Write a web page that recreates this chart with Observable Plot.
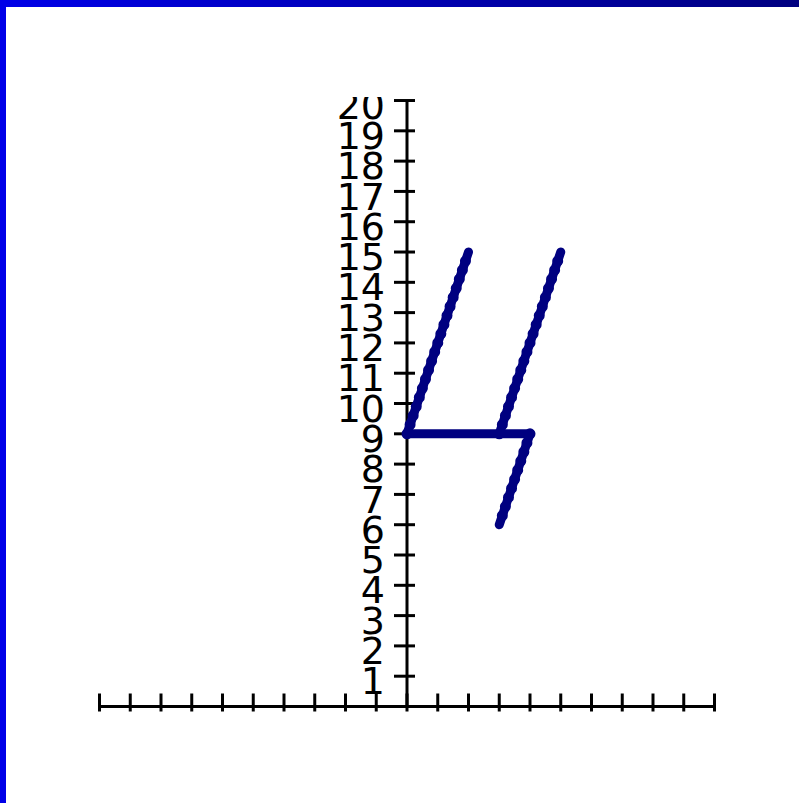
<!DOCTYPE html>
<html><head><meta charset="utf-8">
<script src="https://cdn.jsdelivr.net/npm/d3@7"></script>
<script src="https://cdn.jsdelivr.net/npm/@observablehq/plot@0.6"></script>
<style>
html,body{margin:0;padding:0;background:#fff;width:799px;height:803px;overflow:hidden;}
#top{position:absolute;left:0;top:0;width:799px;height:7px;background:linear-gradient(to right,#0000e8,#000080);z-index:2}
#left{position:absolute;left:0;top:0;width:6px;height:803px;background:#0000e8;z-index:2}
#chart{position:absolute;left:0;top:0}
</style></head><body>
<div id="chart"></div><div id="top"></div><div id="left"></div>
<script>
// tick values
const xTicks = [-10,-9,-8,-7,-6,-5,-4,-3,-2,-1,0,1,2,3,4,5,6,7,8,9,10];
const yTicks = [1,2,3,4,5,6,7,8,9,10,11,12,13,14,15,16,17,18,19,20];
// segments of the "4" drawing
const segX1 = [0, 0, 4, 3];
const segY1 = [9, 9, 9, 9];
const segX2 = [2, 4, 3, 5];
const segY2 = [15, 9, 6, 15];
const sloped = [true, false, true, true];

const xTickSym = {draw(ctx){ ctx.moveTo(0,-13); ctx.lineTo(0,5); }};
const yTickSym = {draw(ctx){ ctx.moveTo(-13,0); ctx.lineTo(8,0); }};
const idx = segX1.map((d,i)=>i);
const slopedIdx = idx.filter(i=>sloped[i]);

const chart = Plot.plot({
  width: 799, height: 803,
  marginLeft: 99, marginRight: 85, marginTop: 97, marginBottom: 97,
  x: {domain: [-10, 10], axis: null},
  y: {domain: [0, 20.1], axis: null},
  style: {background: "transparent", overflow: "hidden"},
  marks: [
    Plot.ruleY([0], {x1: -10, x2: 10, stroke: "black", strokeWidth: 3}),
    Plot.ruleX([0], {y1: 0, y2: 20, stroke: "black", strokeWidth: 3}),
    Plot.dot(xTicks, {x: d=>d, y: 0, symbol: xTickSym, fill: "none", stroke: "black", strokeWidth: 3}),
    Plot.dot(yTicks, {x: 0, y: d=>d, symbol: yTickSym, fill: "none", stroke: "black", strokeWidth: 3}),
    Plot.text(yTicks, {x: 0, y: d=>d, text: d=>String(d), textAnchor: "end", dx: -22, dy: 6,
      fontSize: 38, fontFamily: "DejaVu Sans", fill: "black", clip: true}),
    Plot.link(idx, {x1: i=>segX1[i], y1: i=>segY1[i], x2: i=>segX2[i], y2: i=>segY2[i],
      stroke: "#000080", strokeWidth: 9, strokeLinecap: "round"}),
    Plot.link(slopedIdx, {x1: i=>segX1[i], y1: i=>segY1[i], x2: i=>segX2[i], y2: i=>segY2[i],
      stroke: "#000080", strokeWidth: 11, strokeLinecap: "round", strokeDasharray: "0 9.6"})
  ]
});
document.getElementById("chart").appendChild(chart);
</script>
</body></html>
